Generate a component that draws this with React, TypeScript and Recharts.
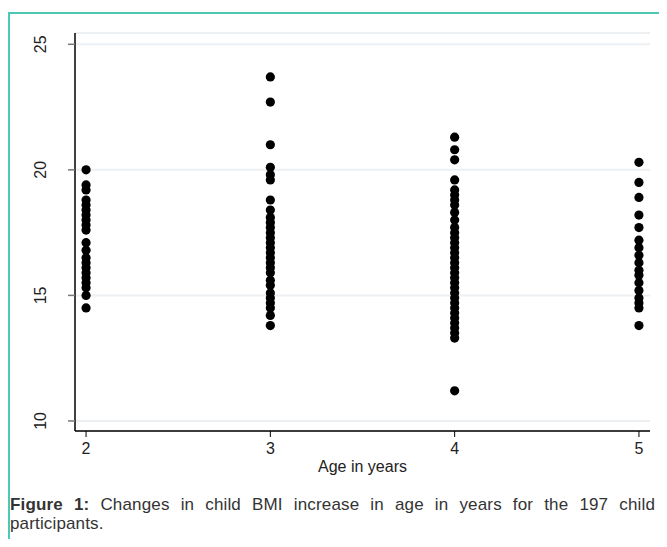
import React from "react";
import { ScatterChart, Scatter, XAxis, YAxis, CartesianGrid } from "recharts";

// BMI readings per age group (years)
const age2 = [20.0, 19.4, 19.2, 18.8, 18.6, 18.4, 18.2, 18.0, 17.8, 17.6, 17.1, 16.8, 16.5, 16.3, 16.1, 15.9, 15.7, 15.5, 15.3, 15.0, 14.5];
const age3 = [23.7, 22.7, 21.0, 20.1, 19.8, 19.6, 18.8, 18.4, 18.1, 17.9, 17.7, 17.5, 17.3, 17.1, 16.9, 16.7, 16.5, 16.3, 16.1, 15.9, 15.6, 15.4, 15.1, 14.9, 14.7, 14.5, 14.2, 13.8];
const age4 = [21.3, 20.8, 20.4, 19.6, 19.2, 19.0, 18.8, 18.6, 18.3, 18.0, 17.7, 17.5, 17.3, 17.1, 16.9, 16.7, 16.5, 16.3, 16.1, 15.9, 15.7, 15.5, 15.3, 15.1, 14.9, 14.7, 14.5, 14.3, 14.1, 13.9, 13.7, 13.5, 13.3, 11.2];
const age5 = [20.3, 19.5, 18.9, 18.2, 17.7, 17.2, 16.9, 16.6, 16.3, 16.0, 15.8, 15.5, 15.2, 14.9, 14.7, 14.5, 13.8];

const xTicks = [2, 3, 4, 5];
const yTicks = [10, 15, 20, 25];

const points = [
  ...age2.map((bmi) => ({ age: 2, bmi })),
  ...age3.map((bmi) => ({ age: 3, bmi })),
  ...age4.map((bmi) => ({ age: 4, bmi })),
  ...age5.map((bmi) => ({ age: 5, bmi })),
];

const font = "'Liberation Sans', Arial, sans-serif";

const XTick = (props: any) => {
  const { x, y, payload } = props;
  return (
    <text x={x} y={y + 15} textAnchor="middle" fontSize={16} fill="#222" fontFamily={font}>
      {payload.value}
    </text>
  );
};

const YTick = (props: any) => {
  const { y, payload } = props;
  return (
    <text
      x={0}
      y={0}
      transform={`translate(46, ${y}) rotate(-90)`}
      textAnchor="middle"
      fontSize={16}
      fill="#222"
      fontFamily={font}
    >
      {payload.value}
    </text>
  );
};

const Dot = (props: any) => <circle cx={props.cx} cy={props.cy} r={4.6} fill="#000" />;

export default function App() {
  return (
    <div style={{ position: "relative", width: 667, height: 547, margin: -8, background: "#fff", overflow: "hidden" }}>
      <div
        style={{
          position: "absolute",
          left: 8,
          top: 12,
          width: 680,
          height: 560,
          borderTop: "2px solid #4cc9b6",
          borderLeft: "2px solid #4cc9b6",
          boxSizing: "border-box",
        }}
      />
      <div style={{ position: "absolute", left: 0, top: 0 }}>
        <ScatterChart width={667} height={490} margin={{ top: 33, right: 17, bottom: 19, left: 0 }}>
          <CartesianGrid vertical={false} stroke="#edf0f3" strokeWidth={2} />
          <XAxis
            type="number"
            dataKey="age"
            domain={[1.94, 5.06]}
            ticks={xTicks}
            allowDataOverflow
            height={40}
            axisLine={{ stroke: "#000", strokeWidth: 1.5 }}
            tickLine={{ stroke: "#000" }}
            tickSize={6}
            tick={<XTick />}
            label={{ value: "Age in years", position: "insideBottom", offset: -1, fontSize: 16, fill: "#222", fontFamily: font }}
          />
          <YAxis
            type="number"
            dataKey="bmi"
            domain={[9.6, 25.45]}
            ticks={yTicks}
            allowDataOverflow
            width={75}
            axisLine={{ stroke: "#000", strokeWidth: 1.5 }}
            tickLine={{ stroke: "#777", strokeWidth: 1.5 }}
            tickSize={7}
            tick={<YTick />}
          />
          <Scatter data={points} shape={<Dot />} isAnimationActive={false} />
        </ScatterChart>
      </div>
      <div
        style={{
          position: "absolute",
          left: 10,
          top: 495,
          width: 645,
          fontFamily: font,
          fontSize: 17,
          lineHeight: "19px",
          letterSpacing: 0.15,
          color: "#333",
          textAlign: "justify",
        }}
      >
        <b>Figure 1:</b> Changes in child BMI increase in age in years for the 197 child participants.
      </div>
    </div>
  );
}
